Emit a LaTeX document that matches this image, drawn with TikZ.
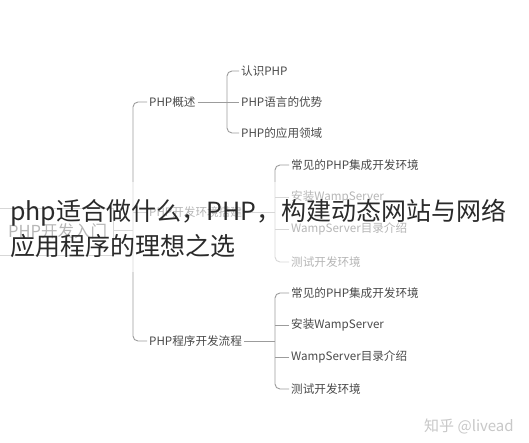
\documentclass[tikz,border=0pt]{standalone}
\usepackage{fontspec}
\setmainfont{Noto Sans CJK SC}
\newfontfamily\cjk{Noto Sans CJK SC}
\definecolor{mmtext}{HTML}{4A4A4A}
\definecolor{mmline}{HTML}{9C9C9C}
\definecolor{titlecol}{HTML}{2A2A2A}
\definecolor{wmark}{HTML}{C8C8C8}
\tikzset{
  topic/.style={anchor=west, inner sep=2pt, text=mmtext, font=\cjk\fontsize{11.6}{13}\selectfont},
  maintopic/.style={topic},
  roottopic/.style={anchor=west, inner sep=0pt, text=mmtext, font=\cjk\fontsize{16.5}{19}\selectfont},
  conn/.style={draw=mmline, line width=0.9pt, rounded corners=5pt},
  titletext/.style={anchor=base west, inner sep=0pt, text=titlecol, font=\cjk\fontsize{25}{30}\selectfont},
}
\begin{document}
\begin{tikzpicture}[x=1pt, y=-1pt]
\useasboundingbox[fill=white] (0,0) rectangle (529,442);

% root
\draw[draw=mmline, line width=0.9pt] (-2,208) -- (113,208) -- (113,255) -- (-2,255);
\node[roottopic] (root) at (8,231) {PHP开发入门};

% level 1
\node[maintopic] (gai)  at (147,102) {PHP概述};
\node[maintopic] (huan) at (147,212) {PHP开发环境搭建};
\node[maintopic] (liu)  at (147,341) {PHP程序开发流程};

\coordinate (rj) at (133,230);
\draw[conn] (113,230) -- (rj);
\draw[conn] (gai.west) -- (133,102) -- (133,341) -- (liu.west);
\draw[conn] (huan.west) -- (133,212);

% level 2: PHP概述
\node[topic] (a1) at (239,71)  {认识PHP};
\node[topic] (a2) at (239,102) {PHP语言的优势};
\node[topic] (a3) at (239,133) {PHP的应用领域};
\draw[conn] (gai.east) -- (a2.west);
\draw[conn] (a1.west) -- (227,71) -- (227,133) -- (a3.west);

% level 2: PHP开发环境搭建
\node[topic] (b1) at (289,165) {常见的PHP集成开发环境};
\node[topic] (b2) at (289,197) {安装WampServer};
\node[topic] (b3) at (289,229) {WampServer目录介绍};
\node[topic] (b4) at (289,262) {测试开发环境};
\draw[conn] (huan.east) -- (275,212);
\draw[conn] (b1.west) -- (275,165) -- (275,262) -- (b4.west);
\draw[conn] (b2.west) -- (275,197);
\draw[conn] (b3.west) -- (275,229);

% level 2: PHP程序开发流程
\node[topic] (c1) at (289,293) {常见的PHP集成开发环境};
\node[topic] (c2) at (289,325) {安装WampServer};
\node[topic] (c3) at (289,357) {WampServer目录介绍};
\node[topic] (c4) at (289,389) {测试开发环境};
\draw[conn] (liu.east) -- (275,341);
\draw[conn] (c1.west) -- (275,293) -- (275,389) -- (c4.west);
\draw[conn] (c2.west) -- (275,325);
\draw[conn] (c3.west) -- (275,357);

% faded band under the title
\fill[white, opacity=0.6] (0,182) rectangle (529,272);

% title
\node[titletext] (t1) at (10,220) {php适合做什么，PHP，构建动态网站与网络};
\node[titletext] (t2) at (10,255) {应用程序的理想之选};

% watermark
\node[anchor=base west, inner sep=0pt, text=wmark, font=\cjk\fontsize{15}{17}\selectfont] (wm) at (424,431) {知乎 @livead};
\end{tikzpicture}
\end{document}
